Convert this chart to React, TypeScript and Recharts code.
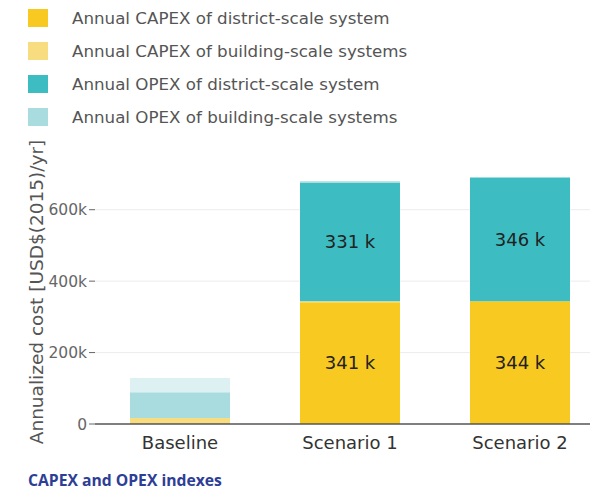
import { Bar, BarChart, CartesianGrid, LabelList, XAxis, YAxis } from "recharts"

const categories = ["Baseline", "Scenario 1", "Scenario 2"]
const capexDistrict = [0, 341000, 344000]
const capexBuilding = [17000, 3000, 0]
const opexDistrict = [0, 331000, 346000]
const opexBuilding = [72000, 5000, 0]
const opexBuildingFaded = [40000, 0, 0]
const yTicks = [0, 200000, 400000, 600000]

const series = [
  { key: "capexDistrict", name: "Annual CAPEX of district-scale system", color: "#f8c920", labelled: true },
  { key: "capexBuilding", name: "Annual CAPEX of building-scale systems", color: "#f8dc80", labelled: false },
  { key: "opexDistrict", name: "Annual OPEX of district-scale system", color: "#3dbdc1", labelled: true },
  { key: "opexBuilding", name: "Annual OPEX of building-scale systems", color: "#a8dcdf", labelled: false },
]

const data = categories.map((c, i) => ({
  category: c,
  capexDistrict: capexDistrict[i],
  capexBuilding: capexBuilding[i],
  opexDistrict: opexDistrict[i],
  opexBuilding: opexBuilding[i],
  opexBuildingFaded: opexBuildingFaded[i],
}))

const fmtK = (v: any) => (v ? `${Math.round(Number(v) / 1000)} k` : "")
const fmtTick = (v: number) => (v === 0 ? "0" : `${v / 1000}k`)

export default function App() {
  return (
    <div
      style={{
        position: "absolute",
        left: 0,
        top: 0,
        width: 590,
        height: 490,
        overflow: "hidden",
        background: "#fff",
        fontFamily: "'DejaVu Sans', sans-serif",
      }}
    >
      <BarChart
        width={605}
        height={470}
        data={data}
        margin={{ top: 174, right: 0, left: 0, bottom: 16 }}
      >
        <CartesianGrid
          vertical={false}
          stroke="#ececec"
          horizontalValues={[200000, 400000, 600000]}
        />
        <XAxis
          dataKey="category"
          height={30}
          tickLine={false}
          axisLine={{ stroke: "#555", strokeWidth: 1.5 }}
          tickMargin={6}
          tick={{ fill: "#333", fontSize: 18, fontFamily: "'DejaVu Sans', sans-serif" }}
        />
        <YAxis
          width={95}
          domain={[0, 700000]}
          ticks={yTicks}
          tickFormatter={fmtTick}
          axisLine={false}
          tickSize={6}
          tickLine={{ stroke: "#666" }}
          tick={{ fill: "#666", fontSize: 15.5, fontFamily: "'DejaVu Sans', sans-serif" }}
        />
        {series.map((s) => (
          <Bar
            key={s.key}
            dataKey={s.key}
            name={s.name}
            stackId="cost"
            fill={s.color}
            barSize={100}
            isAnimationActive={false}
          >
            {s.labelled && (
              <LabelList
                dataKey={s.key}
                position="center"
                formatter={fmtK}
                fill="#222"
                fontSize={18}
                fontFamily="'DejaVu Sans', sans-serif"
              />
            )}
          </Bar>
        ))}
        <Bar
          dataKey="opexBuildingFaded"
          stackId="cost"
          fill="#def1f2"
          barSize={100}
          legendType="none"
          isAnimationActive={false}
        />
      </BarChart>

      {/* legend */}
      <div style={{ position: "absolute", left: 28, top: 1 }}>
        {series.map((s) => (
          <div key={s.key} style={{ display: "flex", alignItems: "center", height: 33 }}>
            <div style={{ width: 20, height: 18, background: s.color }} />
            <span style={{ marginLeft: 24, fontSize: 16.7, color: "#555" }}>{s.name}</span>
          </div>
        ))}
      </div>

      {/* y axis title */}
      <svg style={{ position: "absolute", left: 0, top: 0 }} width={80} height={490}>
        <text
          x={0}
          y={0}
          transform="translate(43, 292) rotate(-90)"
          textAnchor="middle"
          fontSize={18.5}
          fill="#555"
          fontFamily="'DejaVu Sans', sans-serif"
        >
          Annualized cost [USD$(2015)/yr]
        </text>
      </svg>

      <div
        style={{
          position: "absolute",
          left: 28,
          top: 469,
          fontFamily: "'Open Sans', sans-serif",
          fontWeight: 700,
          fontSize: 15.7,
          color: "#2e3e96",
        }}
      >
        CAPEX and OPEX indexes
      </div>
    </div>
  )
}
